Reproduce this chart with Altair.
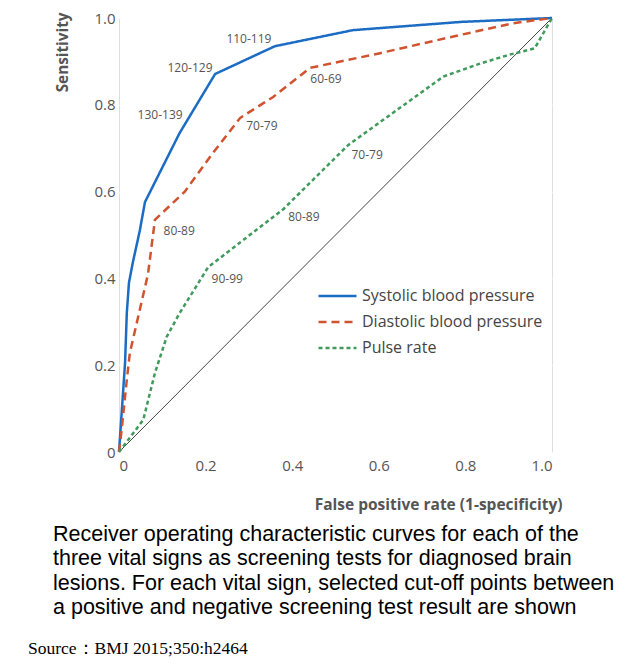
import altair as alt
import pandas as pd

series_names = ["Systolic blood pressure", "Diastolic blood pressure", "Pulse rate"]

sys_x = [0, 0.014, 0.018, 0.023, 0.032, 0.048, 0.06, 0.14, 0.222, 0.36, 0.54, 0.79, 1.0]
sys_y = [0, 0.205, 0.32, 0.39, 0.437, 0.51, 0.576, 0.735, 0.871, 0.935, 0.972, 0.991, 1.0]

dia_x = [0, 0.006, 0.018, 0.025, 0.067, 0.083, 0.152, 0.217, 0.28, 0.356, 0.441, 0.603, 0.757, 0.91, 1.0]
dia_y = [0, 0.05, 0.166, 0.228, 0.41, 0.535, 0.60, 0.689, 0.77, 0.818, 0.885, 0.919, 0.954, 0.988, 1.0]

pul_x = [0, 0.056, 0.083, 0.11, 0.14, 0.206, 0.38, 0.529, 0.749, 0.834, 0.90, 0.96, 1.0]
pul_y = [0, 0.074, 0.182, 0.265, 0.32, 0.426, 0.56, 0.707, 0.865, 0.895, 0.915, 0.93, 1.0]

label_text = ["130-139", "120-129", "110-119", "80-89", "70-79", "60-69", "90-99", "80-89", "70-79"]
label_x = [0.095, 0.164, 0.30, 0.139, 0.33, 0.478, 0.25, 0.427, 0.573]
label_y = [0.776, 0.885, 0.951, 0.509, 0.751, 0.859, 0.398, 0.541, 0.684]

ref_x = [0, 1]
ref_y = [0, 1]

tick_values = [0, 0.2, 0.4, 0.6, 0.8, 1.0]
inner_ticks = [0.2, 0.4, 0.6, 0.8]

caption_lines = [
    "Receiver operating characteristic curves for each of the",
    "three vital signs as screening tests for diagnosed brain",
    "lesions. For each vital sign, selected cut-off points between",
    "a positive and negative screening test result are shown",
]
source_text = "Source\uff1aBMJ 2015;350:h2464"

colors = ["#1c6cc4", "#d0532f", "#3f9a5c"]
dashes = [[1, 0], [8, 5], [4, 3]]

rows = []
for name, xs, ys in zip(series_names, [sys_x, dia_x, pul_x], [sys_y, dia_y, pul_y]):
    for i, (a, b) in enumerate(zip(xs, ys)):
        rows.append({"series": name, "x": a, "y": b, "i": i})
curves = pd.DataFrame(rows)
labels_df = pd.DataFrame({"t": label_text, "x": label_x, "y": label_y})
ref_df = pd.DataFrame({"x": ref_x, "y": ref_y, "i": [0, 1]})
ticks_df = pd.DataFrame({"x": inner_ticks})
src_df = pd.DataFrame({"t": [source_text]})
cap_df = pd.DataFrame({"t": ["\n".join(caption_lines)]})

FONT = "Open Sans"
lab_expr = "datum.value == 0 ? '0' : format(datum.value, '.1f')"

xscale = alt.Scale(domain=[0, 1], nice=False, zero=False)
yscale = alt.Scale(domain=[0, 1], nice=False, zero=False)

xaxis = alt.Axis(values=tick_values, labelExpr=lab_expr, grid=False, domain=False, ticks=False,
                 labelFont=FONT, labelFontSize=15, labelColor="#555", labelPadding=6,
                 title="False positive rate (1-specificity)", titleFont=FONT, titleFontSize=15.5,
                 titleFontWeight="bold", titleColor="#555", titleAnchor="end", titleAlign="right",
                 titleBaseline="middle", titleX=443, titleY=52)
yaxis = alt.Axis(values=tick_values, labelExpr=lab_expr, grid=True, gridColor="white", gridWidth=1.5,
                 domain=False, ticks=False, labelFont=FONT, labelFontSize=15, labelColor="#555",
                 labelPadding=4, title="Sensitivity", titleFont=FONT, titleFontSize=15.3,
                 titleFontWeight="bold", titleColor="#555", titleAngle=-90, titleAlign="right",
                 titleBaseline="middle", titleX=-57, titleY=-6)

leg = alt.Legend(orient="none", legendX=207.5, legendY=267, title=None, symbolType="M-2,0H2",
                 symbolSize=361, symbolStrokeWidth=2.5, symbolFillColor="transparent",
                 labelFont=FONT, labelFontSize=16,
                 labelColor="#444", labelOffset=13.5, rowPadding=7, labelLimit=0)

ref_line = alt.Chart(ref_df).mark_line(color="#444", strokeWidth=1).encode(
    x=alt.X("x:Q", scale=xscale, axis=xaxis),
    y=alt.Y("y:Q", scale=yscale, axis=yaxis),
    order="i:Q",
)

inner = alt.Chart(ticks_df).mark_rule(color="white", strokeWidth=1.5).encode(
    x="x:Q", y=alt.value(434), y2=alt.value(429)
)

lines = alt.Chart(curves).mark_line(strokeWidth=2.5).encode(
    x="x:Q",
    y="y:Q",
    order="i:Q",
    color=alt.Color("series:N", scale=alt.Scale(domain=series_names, range=colors), legend=leg),
    strokeDash=alt.StrokeDash("series:N", scale=alt.Scale(domain=series_names, range=dashes), legend=leg),
)

texts = alt.Chart(labels_df).mark_text(font=FONT, fontSize=12, color="#555", baseline="middle").encode(
    x="x:Q", y="y:Q", text="t:N"
)

caption = alt.Chart(cap_df).mark_text(font="Liberation Sans", fontSize=21.5, color="black", align="left",
                                      baseline="top", lineBreak="\n", lineHeight=24.3).encode(
    x=alt.value(-66), y=alt.value(506), text="t:N"
)

src = alt.Chart(src_df).mark_text(font="Liberation Serif", fontSize=17.5, color="black", align="left",
                                   baseline="middle").encode(
    x=alt.value(-91), y=alt.value(631), text="t:N"
)

chart = alt.layer(ref_line, inner, lines, texts, caption, src).properties(
    width=433, height=434,
    autosize=alt.AutoSizeParams(type="none"),
    padding={"left": 111, "top": 10, "right": 63, "bottom": 207},
).configure_view(fill="#e6e6e8", stroke=None).configure(background="white")

chart.save("out.html", embed_options={"renderer": "svg", "actions": False})
